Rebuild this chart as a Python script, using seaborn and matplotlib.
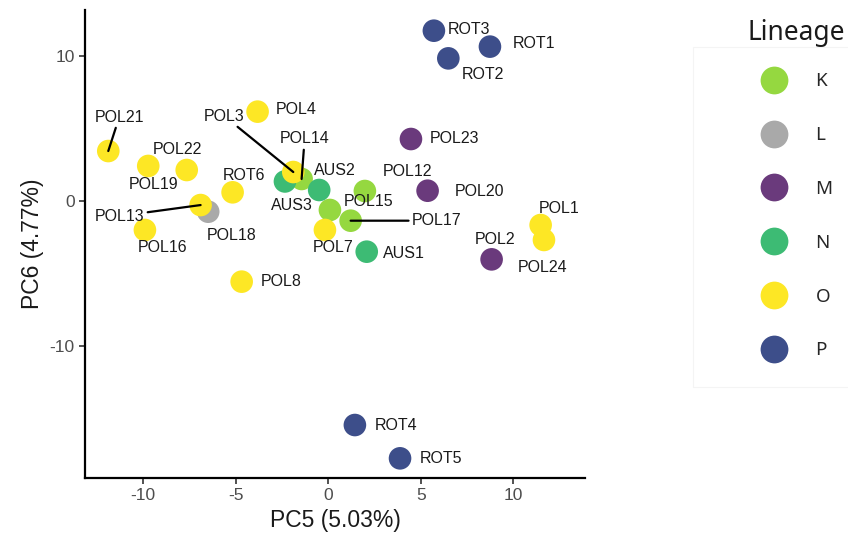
import matplotlib
matplotlib.use("Agg")
import matplotlib.pyplot as plt
from matplotlib.lines import Line2D
from matplotlib.patches import Rectangle
import seaborn as sns
import pandas as pd

# PCA scores (PC5 vs PC6) per sample, with lineage assignment
samples = ["POL12", "POL14", "POL15", "POL17",
           "POL18",
           "POL2", "POL20", "POL23",
           "AUS1", "AUS2", "AUS3",
           "POL1", "POL24", "POL3", "POL4", "POL7", "POL8", "POL13", "POL16",
           "POL19", "POL21", "POL22", "ROT6",
           "ROT1", "ROT2", "ROT3", "ROT4", "ROT5"]
pc5 = [1.98, -1.44, 0.09, 1.21,
       -6.49,
       8.83, 5.37, 4.47,
       2.08, -0.49, -2.34,
       11.48, 11.66, -1.89, -3.82, -0.18, -4.68, -6.90, -9.91,
       -9.73, -11.89, -7.65, -5.17,
       8.74, 6.49, 5.71, 1.44, 3.88]
pc6 = [0.69, 1.52, -0.62, -1.36,
       -0.74,
       -4.03, 0.71, 4.28,
       -3.50, 0.76, 1.35,
       -1.66, -2.69, 2.00, 6.17, -2.00, -5.57, -0.28, -2.00,
       2.42, 3.45, 2.14, 0.60,
       10.66, 9.85, 11.76, -15.47, -17.77]
lineage = ["K", "K", "K", "K",
           "L",
           "M", "M", "M",
           "N", "N", "N",
           "O", "O", "O", "O", "O", "O", "O", "O",
           "O", "O", "O", "O",
           "P", "P", "P", "P", "P"]

lineage_levels = ["K", "L", "M", "N", "O", "P"]
lineage_colors = ["#95D840", "#A9A9A9", "#6A3A7C", "#3DBB74", "#FDE725", "#3D4E8A"]

# Repelled label placement: offset of each label from its point (pixels)
label_offsets = {
    "POL21": (11, 34), "POL22": (-9, 21), "POL19": (5, -19), "POL4": (39, 2),
    "POL3": (-69, 56), "POL14": (3, 40), "AUS3": (7, -24), "ROT6": (11, 17),
    "POL13": (-81, -11), "POL18": (23, -24), "POL16": (18, -18),
    "AUS2": (16, 19), "POL15": (39, 8), "POL12": (43, 20), "POL17": (86, 0),
    "POL7": (8, -18), "AUS1": (37, -2), "POL23": (44, 1), "POL20": (52, -1),
    "ROT3": (35, 1), "ROT1": (44, 3), "ROT2": (35, -16), "POL2": (3, 20),
    "POL1": (18, 17), "POL24": (-1, -28), "POL8": (40, 0), "ROT4": (41, 0),
    "ROT5": (41, 0),
}
segment_labels = {"POL21", "POL3", "POL14", "POL13", "POL17"}

df = pd.DataFrame({"sample": samples, "PC5": pc5, "PC6": pc6, "Lineage": lineage})
palette = dict(zip(lineage_levels, lineage_colors))

sns.set_theme(style="ticks")
plt.rcParams["font.family"] = ["Liberation Sans", "DejaVu Sans"]
plt.rcParams["axes.unicode_minus"] = False

fig = plt.figure(figsize=(8.48, 5.46), dpi=100)
ax = fig.add_axes([0.1002, 0.1245, 0.5897, 0.8572])

sns.scatterplot(data=df, x="PC5", y="PC6", hue="Lineage", hue_order=lineage_levels,
                palette=palette, s=265, linewidth=0, alpha=1, legend=False,
                ax=ax, zorder=3)

for name, x, y in zip(samples, pc5, pc6):
    dx, dy = label_offsets[name]
    props = None
    if name in segment_labels:
        props = dict(arrowstyle="-", color="black", lw=1.6, shrinkA=0, shrinkB=0)
    ax.annotate(name, xy=(x, y), xytext=(dx, dy), textcoords="offset pixels",
                ha="center", va="center", fontsize=11.5, color="#1A1A1A",
                arrowprops=props, zorder=4)

ax.set_xlim(-13.15, 13.88)
ax.set_ylim(-19.13, 13.19)
ax.set_xticks([-10, -5, 0, 5, 10])
ax.set_yticks([-10, 0, 10])
ax.set_xlabel("PC5 (5.03%)", fontsize=16.5, color="#1A1A1A")
ax.set_ylabel("PC6 (4.77%)", fontsize=16.5, color="#1A1A1A")
ax.tick_params(axis="both", labelsize=12.5, labelcolor="#4D4D4D", color="#333333",
               length=4, width=1.2)
for side in ["top", "right"]:
    ax.spines[side].set_visible(False)
for side in ["left", "bottom"]:
    ax.spines[side].set_linewidth(1.6)
    ax.spines[side].set_color("black")

# Legend
legend_font = ["Noto Sans", "DejaVu Sans"]
handles = [Line2D([0], [0], marker="o", linestyle="none", markersize=20,
                  markerfacecolor=c, markeredgewidth=0) for c in lineage_colors]
leg = fig.legend(handles, lineage_levels, loc="upper left",
                 bbox_to_anchor=(0.8709, 0.8984), frameon=False,
                 prop={"family": legend_font, "size": 13.5},
                 labelspacing=1.91, handletextpad=1.2, borderpad=0.4)
fig.text(796 / 848, 1 - 33 / 546, "Lineage", ha="center", va="center",
         fontsize=19, family=legend_font, color="#1A1A1A")

fig.patches.append(Rectangle((693 / 848, 1 - 387 / 546), 160 / 848, 340 / 546,
                             transform=fig.transFigure, fill=False,
                             edgecolor="#F4F4F4", linewidth=0.8))

fig.savefig("out.png", dpi=100)
